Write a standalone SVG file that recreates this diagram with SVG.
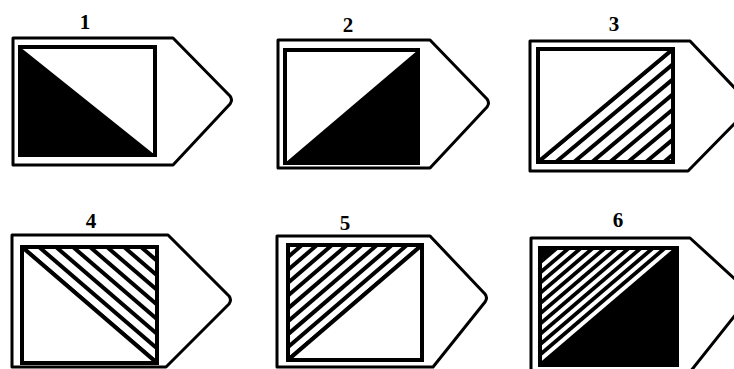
<svg xmlns="http://www.w3.org/2000/svg" width="734" height="369" viewBox="0 0 734 369">
<style>
.frame{fill:none;stroke:#000;stroke-width:3;stroke-linejoin:round}
.sq{fill:none;stroke:#000;stroke-width:4}
.blk{fill:#000;stroke:none}
.h{stroke:#000;stroke-width:4;fill:none}
.hw{stroke:#fff;stroke-width:4;fill:none}
.lbl{font-family:"Liberation Serif","DejaVu Serif",serif;font-weight:bold;font-size:21px;text-anchor:middle;fill:#000}
</style>
<defs>
<clipPath id="c3"><polygon points="538,162 673,49 673,162"/></clipPath>
<clipPath id="c4"><polygon points="22,247 157,247 157,363"/></clipPath>
<clipPath id="c5"><polygon points="288,245 422,245 288,360"/></clipPath>
<clipPath id="c6"><polygon points="540,248 677,248 540,365"/></clipPath>
</defs>
<rect width="734" height="369" fill="#fff"/>

<g id="panel1">
<text class="lbl" x="85" y="29">1</text>
<path class="frame" d="M13,38 H173 L230,96 Q233,100 230,104 L173,165 H13 Z"/>
<polygon class="blk" points="20,47 155,155 20,155"/>
<rect class="sq" x="20" y="47" width="135" height="108"/>
</g>

<g id="panel2">
<text class="lbl" x="348" y="32">2</text>
<path class="frame" d="M278,40 H430 L487,99 Q490,103 487,107 L430,168 H278 Z"/>
<polygon class="blk" points="285,163 418,50 418,163"/>
<rect class="sq" x="285" y="50" width="133" height="113"/>
</g>

<g id="panel3">
<text class="lbl" x="614" y="31">3</text>
<path class="frame" d="M530,41 H690 L748,102 Q751,106 748,110 L688,171 H530 Z"/>
<g clip-path="url(#c3)">
<line class="h" x1="538" y1="162" x2="673" y2="49"/>
<line class="h" x1="556" y1="162" x2="691" y2="49"/>
<line class="h" x1="574" y1="162" x2="709" y2="49"/>
<line class="h" x1="592" y1="162" x2="727" y2="49"/>
<line class="h" x1="610" y1="162" x2="745" y2="49"/>
<line class="h" x1="628" y1="162" x2="763" y2="49"/>
<line class="h" x1="646" y1="162" x2="781" y2="49"/>
<line class="h" x1="664" y1="162" x2="799" y2="49"/>
</g>
<line class="h" x1="538" y1="162" x2="673" y2="49"/>
<rect class="sq" x="538" y="49" width="135" height="113"/>
</g>

<g id="panel4">
<text class="lbl" x="91" y="228">4</text>
<path class="frame" d="M12,235 H168 L229,296 Q232,300 229,304 L166,367 H12 Z"/>
<g clip-path="url(#c4)">
<line class="h" x1="22" y1="247" x2="157" y2="363"/>
<line class="h" x1="39" y1="247" x2="174" y2="363"/>
<line class="h" x1="56" y1="247" x2="191" y2="363"/>
<line class="h" x1="73" y1="247" x2="208" y2="363"/>
<line class="h" x1="90" y1="247" x2="225" y2="363"/>
<line class="h" x1="107" y1="247" x2="242" y2="363"/>
<line class="h" x1="124" y1="247" x2="259" y2="363"/>
<line class="h" x1="141" y1="247" x2="276" y2="363"/>
</g>
<line class="h" x1="22" y1="247" x2="157" y2="363"/>
<rect class="sq" x="22" y="247" width="135" height="116"/>
</g>

<g id="panel5">
<text class="lbl" x="345" y="230">5</text>
<path class="frame" d="M277,236 H430 L485,294 Q488,298 485,302 L433,367 H277 Z"/>
<g clip-path="url(#c5)">
<line class="h" x1="288" y1="360" x2="422" y2="245"/>
<line class="h" x1="273" y1="360" x2="407" y2="245"/>
<line class="h" x1="258" y1="360" x2="392" y2="245"/>
<line class="h" x1="243" y1="360" x2="377" y2="245"/>
<line class="h" x1="228" y1="360" x2="362" y2="245"/>
<line class="h" x1="213" y1="360" x2="347" y2="245"/>
<line class="h" x1="198" y1="360" x2="332" y2="245"/>
<line class="h" x1="183" y1="360" x2="317" y2="245"/>
<line class="h" x1="168" y1="360" x2="302" y2="245"/>
</g>
<line class="h" x1="288" y1="360" x2="422" y2="245"/>
<rect class="sq" x="288" y="245" width="134" height="115"/>
</g>

<g id="panel6">
<text class="lbl" x="618" y="227">6</text>
<path class="frame" d="M531,238 H690 L748,291 Q751,295 748,299 L690,372 H531 Z"/>
<rect class="blk" x="540" y="248" width="137" height="117"/>
<g clip-path="url(#c6)">
<line class="hw" x1="534" y1="365" x2="671" y2="248"/>
<line class="hw" x1="522" y1="365" x2="659" y2="248"/>
<line class="hw" x1="510" y1="365" x2="647" y2="248"/>
<line class="hw" x1="498" y1="365" x2="635" y2="248"/>
<line class="hw" x1="486" y1="365" x2="623" y2="248"/>
<line class="hw" x1="474" y1="365" x2="611" y2="248"/>
<line class="hw" x1="462" y1="365" x2="599" y2="248"/>
<line class="hw" x1="450" y1="365" x2="587" y2="248"/>
<line class="hw" x1="438" y1="365" x2="575" y2="248"/>
<line class="hw" x1="426" y1="365" x2="563" y2="248"/>
</g>
<rect class="sq" x="540" y="248" width="137" height="117"/>
</g>
</svg>
